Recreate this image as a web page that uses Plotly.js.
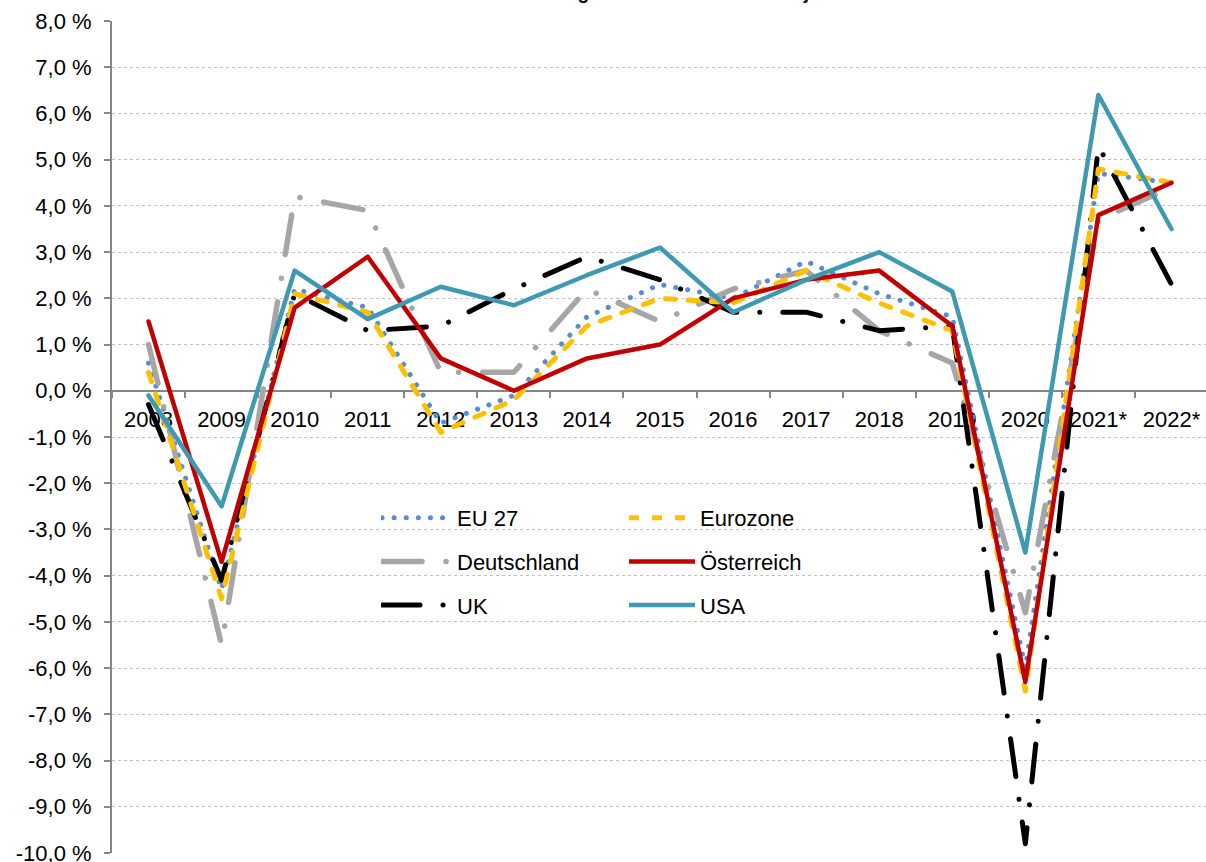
<!DOCTYPE html>
<html>
<head>
<meta charset="utf-8">
<script src="https://cdn.plot.ly/plotly-3.0.1.min.js"></script>
<style>
html,body{margin:0;padding:0;overflow:hidden;background:#fff;}
#chart{width:1210px;height:862px;}
#chart .scatterlayer path.js-line, #chart .legend path.js-line{stroke-linecap:round;stroke-linejoin:round;}
#chart .legend .legendlines path.js-line{d:path("M1,0h69");}
</style>
</head>
<body>
<div id="chart"></div>
<script>
const years = ["2008","2009","2010","2011","2012","2013","2014","2015","2016","2017","2018","2019","2020","2021*","2022*"];
const eu27 =        [0.6, -4.3, 2.2, 1.8, -0.7, -0.1, 1.6, 2.3, 2.0, 2.8, 2.1, 1.6, -6.0, 4.7, 4.5];
const eurozone =    [0.4, -4.5, 2.1, 1.7, -0.9, -0.2, 1.4, 2.0, 1.9, 2.6, 1.9, 1.3, -6.5, 4.8, 4.5];
const deutschland = [1.0, -5.5, 4.2, 3.9, 0.4, 0.4, 2.2, 1.5, 2.2, 2.6, 1.3, 0.6, -4.8, 3.7, 4.4];
const oesterreich = [1.5, -3.7, 1.8, 2.9, 0.7, 0.0, 0.7, 1.0, 2.0, 2.4, 2.6, 1.4, -6.3, 3.8, 4.5];
const uk =          [-0.3, -4.1, 2.1, 1.3, 1.4, 2.2, 2.9, 2.4, 1.7, 1.7, 1.3, 1.4, -9.8, 5.3, 2.3];
const usa =         [-0.1, -2.5, 2.6, 1.55, 2.25, 1.85, 2.5, 3.1, 1.7, 2.4, 3.0, 2.15, -3.5, 6.4, 3.5];

const yTickVals = [8,7,6,5,4,3,2,1,0,-1,-2,-3,-4,-5,-6,-7,-8,-9,-10];
const yTickText = ["8,0 %","7,0 %","6,0 %","5,0 %","4,0 %","3,0 %","2,0 %","1,0 %","0,0 %","-1,0 %","-2,0 %","-3,0 %","-4,0 %","-5,0 %","-6,0 %","-7,0 %","-8,0 %","-9,0 %","-10,0 %"];

const titleText = "<b>Veränderung des realen BIP zum Vorjahr</b>";

function tr(name, y, color, width, dash, legend, group) {
  return {
    type: "scatter", mode: "lines", x: years, y: y, name: name,
    line: {color: color, width: width, dash: dash},
    legend: legend, legendgroup: group, hoverinfo: "skip"
  };
}

const data = [
  tr("EU 27", eu27, "#558ED5", 5, "0.1px,12px", "legend", "a"),
  tr("Deutschland", deutschland, "#A6A6A6", 5.5, "40px,24px,0.1px,24px", "legend", "b"),
  tr("UK", uk, "#000000", 5, "38px,23px,0.1px,23px", "legend", "c"),
  tr("Eurozone", eurozone, "#FFC000", 5, "10px,13px", "legend2", "d"),
  tr("Österreich", oesterreich, "#C00000", 4.5, "solid", "legend2", "e"),
  tr("USA", usa, "#3F99B1", 4.5, "solid", "legend2", "f")
];

const font = {family: "Arial, Liberation Sans, sans-serif", size: 22, color: "#000"};
const legBase = {
  orientation: "v", xanchor: "left", yanchor: "top", itemwidth: 66,
  font: font, bgcolor: "rgba(0,0,0,0)", tracegroupgap: 12, traceorder: "grouped"
};

const layout = {
  width: 1210, height: 862,
  margin: {l: 112, r: 2, t: 21, b: 9, pad: 0},
  paper_bgcolor: "#fff", plot_bgcolor: "#fff",
  font: font,
  showlegend: true,
  xaxis: {
    type: "category", range: [-0.5, 14.5],
    anchor: "free", position: 10/18,
    showline: true, linecolor: "#868686", linewidth: 2,
    ticks: "outside", tickson: "boundaries", ticklen: 6, tickcolor: "#868686", tickwidth: 2,
    showgrid: false, zeroline: false, layer: "below traces",
    tickfont: font, ticklabelstandoff: 9, fixedrange: true
  },
  yaxis: {
    range: [-10, 8], tickvals: yTickVals, ticktext: yTickText,
    showline: true, linecolor: "#868686", linewidth: 2,
    ticks: "outside", ticklen: 6, tickcolor: "#868686", tickwidth: 2,
    showgrid: true, gridcolor: "#BFBFBF", griddash: "dot", gridwidth: 1,
    zeroline: false, tickfont: font, ticklabelstandoff: 8, fixedrange: true,
    ticklabeloverflow: "allow", layer: "below traces"
  },
  legend: Object.assign({}, legBase, {x: (381-112)/1096, y: (853-497)/832}),
  legend2: Object.assign({}, legBase, {x: (624-112)/1096, y: (853-497)/832}),
  annotations: [{
    text: titleText, xref: "paper", yref: "paper",
    x: 0.496, y: (853-5)/832, xanchor: "center", yanchor: "bottom",
    showarrow: false, font: {family: "Arial, Liberation Sans, sans-serif", size: 19, color: "#000"}
  }]
};

Plotly.newPlot("chart", data, layout, {displayModeBar: false, staticPlot: true});
</script>
</body>
</html>
